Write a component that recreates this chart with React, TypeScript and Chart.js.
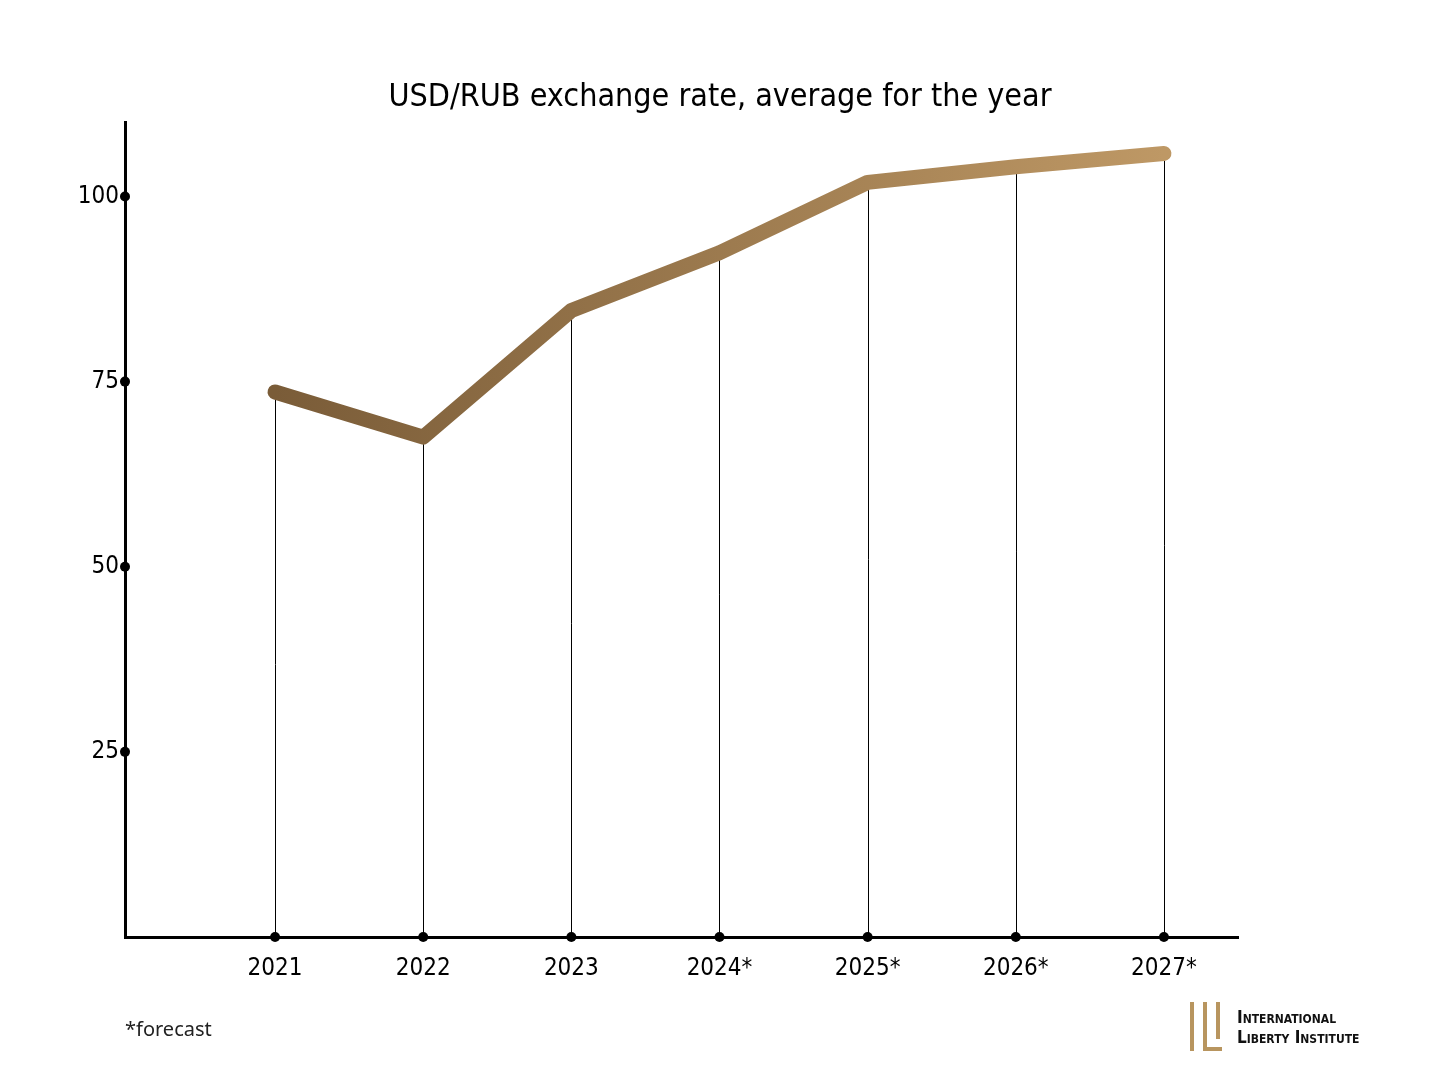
import React, { useEffect, useRef } from "react";
import { Chart, registerables } from "chart.js";

Chart.register(...registerables);

const years = [2021, 2022, 2023, 2024, 2025, 2026, 2027];
const yearLabels = ["2021", "2022", "2023", "2024*", "2025*", "2026*", "2027*"];
const rates = [73.6, 67.5, 84.6, 92.4, 101.9, 104.0, 105.8];
const yTicks = [25, 50, 75, 100];

const FONT = "'Liberation Sans Narrow', 'DejaVu Sans Condensed', 'Roboto', sans-serif";

const guidePlugin = {
  id: "guides",
  beforeDatasetsDraw(chart: any) {
    const { ctx, chartArea } = chart;
    const meta = chart.getDatasetMeta(0);
    ctx.save();
    ctx.strokeStyle = "#000";
    ctx.lineWidth = 1;
    meta.data.forEach((pt: any) => {
      ctx.beginPath();
      ctx.moveTo(Math.round(pt.x) + 0.5, pt.y);
      ctx.lineTo(Math.round(pt.x) + 0.5, chartArea.bottom);
      ctx.stroke();
    });
    ctx.restore();
  },
  afterDraw(chart: any) {
    const { ctx, chartArea, scales } = chart;
    ctx.save();
    ctx.fillStyle = "#000";
    years.forEach((yr) => {
      const x = scales.x.getPixelForValue(yr);
      ctx.beginPath();
      ctx.arc(x, chartArea.bottom, 5, 0, Math.PI * 2);
      ctx.fill();
    });
    yTicks.forEach((v) => {
      const y = scales.y.getPixelForValue(v);
      ctx.beginPath();
      ctx.arc(chartArea.left, y, 5, 0, Math.PI * 2);
      ctx.fill();
    });
    ctx.restore();
  },
};

export default function App() {
  const ref = useRef<HTMLCanvasElement>(null);
  useEffect(() => {
    if (!ref.current) return;
    const chart = new Chart(ref.current, {
      type: "line",
      data: {
        datasets: [
          {
            data: years.map((y, i) => ({ x: y, y: rates[i] })),
            borderWidth: 15,
            borderCapStyle: "round",
            borderJoinStyle: "round",
            pointRadius: 0,
            tension: 0,
            borderColor: (c: any) => {
              const ch = c.chart;
              const { ctx, chartArea, scales } = ch;
              if (!chartArea) return "#9c7a4e";
              const x0 = scales.x.getPixelForValue(2021);
              const x1 = scales.x.getPixelForValue(2027);
              const g = ctx.createLinearGradient(x0, 0, x1, 0);
              g.addColorStop(0, "#7a5c38");
              g.addColorStop(1, "#be9865");
              return g;
            },
          },
        ],
      },
      plugins: [guidePlugin],
      options: {
        responsive: false,
        animation: false,
        layout: { padding: 0 },
        plugins: {
          legend: { display: false },
          tooltip: { enabled: false },
          title: {
            display: true,
            text: "USD/RUB exchange rate, average for the year",
            color: "#000",
            font: { family: FONT, size: 32, weight: "normal", lineHeight: 1.2 },
            padding: { top: 78, bottom: 6 },
          },
        },
        scales: {
          x: {
            type: "linear",
            min: 2019.987,
            max: 2027.5,
            afterBuildTicks: (s: any) => {
              s.ticks = years.map((v) => ({ value: v }));
            },
            afterFit: (s: any) => {
              s.height = 143;
            },
            grid: { display: false, drawTicks: false },
            border: { display: true, color: "#000", width: 3 },
            ticks: {
              padding: 17,
              color: "#000",
              font: { family: FONT, size: 24 },
              callback: (v: any) => yearLabels[years.indexOf(Number(v))] ?? "",
              maxRotation: 0,
              autoSkip: false,
            },
          },
          y: {
            min: 0,
            max: 110,
            afterBuildTicks: (s: any) => {
              s.ticks = yTicks.map((v) => ({ value: v }));
            },
            afterFit: (s: any) => {
              s.width = 125;
            },
            grid: { display: false, drawTicks: false },
            border: { display: true, color: "#000", width: 3 },
            ticks: {
              padding: 6,
              color: "#000",
              font: { family: FONT, size: 24 },
              autoSkip: false,
            },
          },
          spacer: {
            type: "linear",
            position: "right",
            min: 0,
            max: 1,
            afterBuildTicks: (s: any) => {
              s.ticks = [];
            },
            afterFit: (s: any) => {
              s.width = 202;
            },
            grid: { display: false, drawTicks: false },
            border: { display: false },
            ticks: { display: false },
          },
        },
      } as any,
    });
    return () => chart.destroy();
  }, []);

  return (
    <div style={{ position: "fixed", left: 0, top: 0, width: 1440, height: 1080, background: "#fff" }}>
      <canvas ref={ref} width={1440} height={1080} style={{ display: "block", width: 1440, height: 1080 }} />
      <div
        style={{
          position: "absolute",
          left: 125,
          top: 1015,
          fontFamily: "'Noto Sans', 'Open Sans', sans-serif",
          fontSize: 20,
          color: "#222",
        }}
      >
        *forecast
      </div>
      <div style={{ position: "absolute", left: 1190, top: 1002, width: 4, height: 49, background: "#b8955f" }} />
      <div style={{ position: "absolute", left: 1203, top: 1002, width: 4, height: 49, background: "#b8955f" }} />
      <div style={{ position: "absolute", left: 1203, top: 1047, width: 19, height: 4, background: "#b8955f" }} />
      <div style={{ position: "absolute", left: 1216, top: 1002, width: 4, height: 37, background: "#b8955f" }} />
      <div
        style={{
          position: "absolute",
          left: 1237,
          top: 1007,
          fontFamily: FONT,
          fontWeight: "bold",
          fontSize: 17,
          fontVariant: "small-caps",
          lineHeight: "20px",
          color: "#111",
        }}
      >
        <div>International</div>
        <div>Liberty Institute</div>
      </div>
    </div>
  );
}
